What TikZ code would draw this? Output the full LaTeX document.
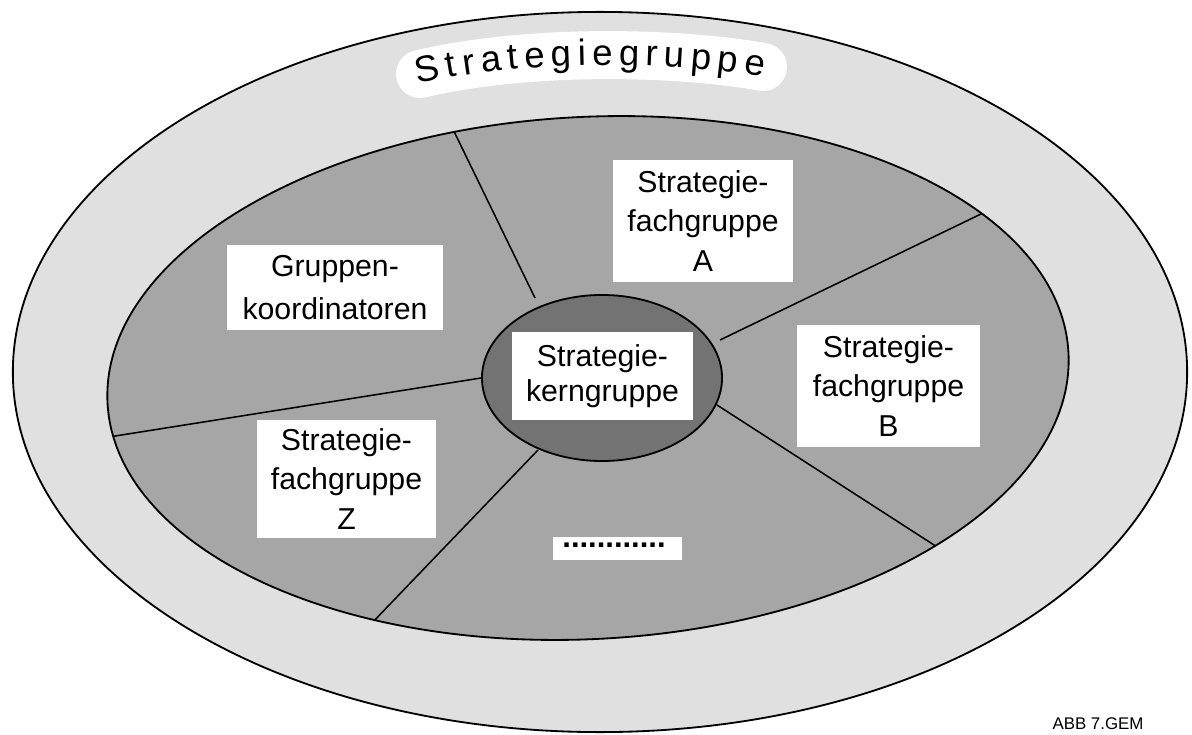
\documentclass[tikz,border=0pt]{standalone}
\usepackage{fontspec}
\setmainfont{Liberation Sans}
\usetikzlibrary{decorations.text}
\begin{document}
\begin{tikzpicture}[x=0.025cm,y=-0.025cm,
  ring/.style={draw=black,line width=1.3pt},
  spoke/.style={draw=black,line width=1.1pt},
  labelbox/.style={fill=white,inner sep=0pt,align=center,
    font=\fontsize{21.5}{28}\selectfont},
  midring/.style={rotate around={3:(588,378)}},
]
\useasboundingbox[fill=white] (0,0) rectangle (1192,735);
\def\midellipse{(588,378) ellipse [x radius=12.025cm, y radius=6.525cm]}

% outer ring: Strategiegruppe
\path[ring,fill=black!12] (600,372) ellipse [x radius=14.675cm, y radius=9cm];

% title banner with curved lettering
\draw[white,line width=1.2cm,line cap=round]
  (420,74) .. controls (530,48) and (680,52) .. (763,67);
\path[decorate,decoration={text along path,
    text={|\fontsize{26}{30}\selectfont|Strategiegruppe},
    text align={fit to path}}]
  (418,84) .. controls (530,58) and (680,62) .. (763,77);

% middle ring
\path[midring,fill=black!35] \midellipse;

% spokes between core and middle ring
\coordinate (s1) at (535,298);  \coordinate (e1) at (447,117);
\coordinate (s2) at (720,340);  \coordinate (e2) at (1010,200);
\coordinate (s3) at (481,378);  \coordinate (e3) at (90,440);
\coordinate (s4) at (717,405);  \coordinate (e4) at (965,565);
\coordinate (s5) at (538,450);  \coordinate (e5) at (370,625);
\begin{scope}
  \clip[midring] \midellipse;
  \foreach \i in {1,...,5} \draw[spoke] (s\i) -- (e\i);
\end{scope}
\path[midring,ring] \midellipse;

% core
\path[ring,fill=black!55] (602,378) ellipse [x radius=3cm, y radius=2.075cm];

% labels
\node[labelbox,minimum width=4.5cm,minimum height=3.05cm] (fa) at (703,221)
  {Strategie-\\fachgruppe\\A};
\node[labelbox,minimum width=4.575cm,minimum height=3.05cm] (fb) at (888.5,386)
  {Strategie-\\fachgruppe\\B};
\node[labelbox,minimum width=4.475cm,minimum height=2.95cm] (fz) at (346.5,479)
  {Strategie-\\fachgruppe\\Z};
\node[labelbox,minimum width=5.4cm,minimum height=2.125cm,
  font=\fontsize{21.5}{30}\selectfont] (gk) at (335,287.5)
  {Gruppen-\\koordinatoren};
\node[labelbox,minimum width=4.525cm,minimum height=2.2cm,
  font=\fontsize{21.5}{25}\selectfont] (kern) at (602.5,376)
  {Strategie-\\kerngruppe};
\node[fill=white,inner sep=0pt,minimum width=3.225cm,minimum height=0.575cm]
  (more) at (617.5,548.5) {};
\node[inner sep=0pt,font=\fontsize{22}{26}\bfseries] (dots) at (614,545)
  {............};

\node[font=\fontsize{12}{14}\selectfont,inner sep=0pt] (tag) at (1098,724)
  {ABB 7.GEM};
\end{tikzpicture}
\end{document}
